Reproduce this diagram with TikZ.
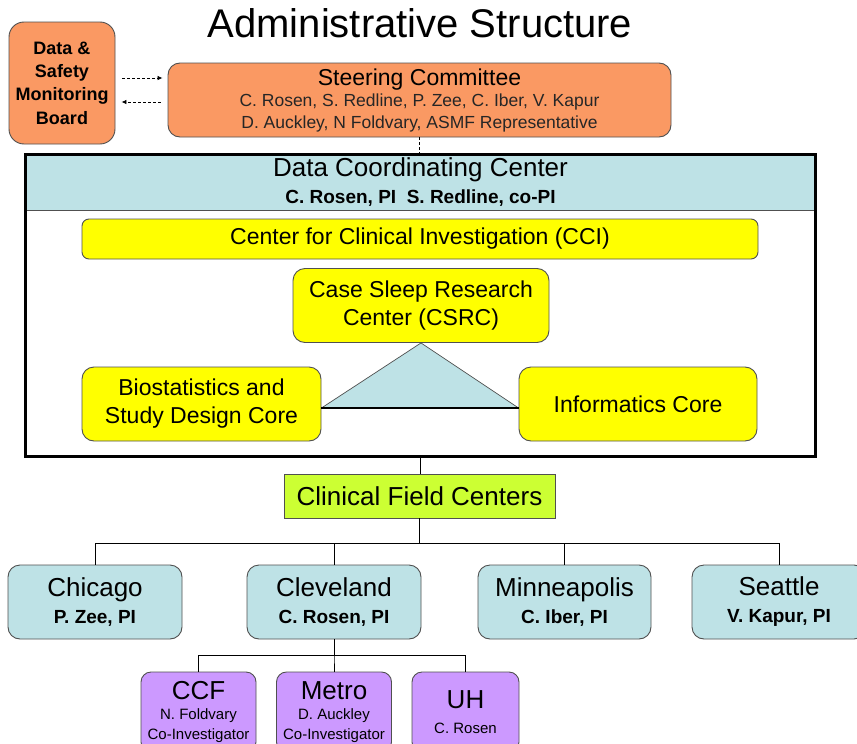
\documentclass[tikz,border=0pt]{standalone}
\usepackage{fontspec}
\setmainfont{Liberation Sans}
\usetikzlibrary{arrows.meta,calc}

\definecolor{dsorange}{RGB}{250,153,99}
\definecolor{paleblue}{RGB}{190,226,230}
\definecolor{boxyellow}{RGB}{255,255,0}
\definecolor{limegreen}{RGB}{204,255,51}
\definecolor{lilac}{RGB}{204,153,255}
\definecolor{edgegray}{RGB}{80,80,80}

\newcommand\fsz[2]{\fontsize{#1}{#2}\selectfont}

\begin{document}
\begin{tikzpicture}[x=1pt,y=-1pt,
  box/.style={draw=edgegray, line width=0.9pt, rounded corners=12pt,
              inner sep=0pt, align=center, text=black},
  orangebox/.style={box, fill=dsorange},
  yellowbox/.style={box, fill=boxyellow, font=\fsz{23}{28}},
  citybox/.style={box, fill=paleblue, minimum width=174pt,
                  minimum height=74pt, font=\fsz{26}{27}},
  sitebox/.style={box, fill=lilac, rounded corners=10pt,
                  minimum height=80pt, font=\fsz{26}{20}},
  link/.style={draw=black, line width=0.8pt},
  dashlink/.style={draw=black, line width=0.8pt, dash pattern=on 3pt off 2pt},
  tip/.style={-{Latex[length=5pt,width=4.5pt]}}
]
\path[use as bounding box] (0,0) rectangle (857,744);
\clip (0,0) rectangle (857,744);
\fill[white] (0,0) rectangle (857,744);

% heading
\node[inner sep=0pt, font=\fsz{40}{44}] (title) at (420,23) {Administrative Structure};

% oversight
\node[orangebox, rounded corners=15pt, minimum width=106pt, minimum height=122pt,
      font=\bfseries\fsz{18}{23.3}] (dsmb) at (62,83)
      {Data \&\\Safety\\Monitoring\\Board};
\node[orangebox, minimum width=503pt, minimum height=74pt,
      font=\fsz{17.5}{21.5}, text=black!85] (sc) at (419.5,100)
      {{\fsz{23}{21.5}\color{black}Steering Committee}\\
       C. Rosen, S. Redline, P. Zee, C. Iber, V. Kapur\\
       D. Auckley, N Foldvary, ASMF Representative};

% data coordinating center
\node[draw=edgegray, line width=0.8pt, fill=paleblue, inner sep=0pt,
      minimum width=790pt, minimum height=55.5pt, align=center,
      font=\fsz{26}{27}] (dcchead) at (420.5,182.25)
      {Data Coordinating Center\\{\bfseries\fsz{19}{27}C. Rosen, PI~~S. Redline, co-PI}};
\node[draw=black, line width=3pt, inner sep=0pt,
      minimum width=790pt, minimum height=302pt] (dcc) at (420.5,305.5) {};

\node[yellowbox, rounded corners=7pt, minimum width=676pt, minimum height=40pt]
      (cci) at (420,239) {Center for Clinical Investigation (CCI)};
\node[yellowbox, minimum width=256pt, minimum height=74pt] (csrc) at (421,305.5)
      {Case Sleep Research\\Center (CSRC)};
\node[yellowbox, minimum width=239pt, minimum height=74pt] (bio) at (201.5,404)
      {Biostatistics and\\Study Design Core};
\node[yellowbox, minimum width=238pt, minimum height=74pt] (inf) at (638,404)
      {Informatics Core};

% core triangle
\coordinate (tl) at ($(bio.east)+(0,4)$);
\coordinate (tr) at ($(inf.west)+(0,4)$);
\fill[paleblue] (csrc.south) -- (tl) -- (tr) -- cycle;
\draw[edgegray, line width=0.7pt] (tl) -- (csrc.south) -- (tr);
\draw[black, line width=1.2pt] (tl) -- (tr);

% field centers
\node[draw=edgegray, line width=0.9pt, fill=limegreen, inner sep=0pt,
      minimum width=271pt, minimum height=44pt, font=\fsz{26}{27}]
      (cfc) at (419.5,496) {Clinical Field Centers};

\node[citybox] (chicago) at (95,602) {Chicago\\{\bfseries\fsz{19}{27}P. Zee, PI}};
\node[citybox] (cleveland) at (334,602) {Cleveland\\{\bfseries\fsz{19}{27}C. Rosen, PI}};
\node[citybox, minimum width=173pt] (minneapolis) at (564.5,602)
      {Minneapolis\\{\bfseries\fsz{19}{27}C. Iber, PI}};
\node[citybox] (seattle) at (779,602) {Seattle\\{\bfseries\fsz{19}{27}V. Kapur, PI}};

\node[sitebox, minimum width=115pt] (ccf) at (198.5,712)
      {CCF\\{\fsz{15}{20}N. Foldvary}\\{\fsz{15}{20}Co-Investigator}};
\node[sitebox, minimum width=115pt] (metro) at (334,712)
      {Metro\\{\fsz{15}{20}D. Auckley}\\{\fsz{15}{20}Co-Investigator}};
\node[sitebox, minimum width=107pt, font=\fsz{26}{25}] (uh) at (465.5,712)
      {UH\\{\fsz{15}{25}C. Rosen}};

% connectors
\draw[dashlink, tip] ($(dsmb.east)+(7,-5)$) -- ($(sc.west)+(-5,-22)$);
\draw[dashlink, tip] ($(sc.west)+(-7,2)$) -- ($(dsmb.east)+(6,19)$);
\draw[dashlink] (sc.south) -- (sc.south |- dcc.north);
\draw[link] (dcc.south) -- (dcc.south |- cfc.north);
\foreach \c in {chicago,cleveland,minneapolis,seattle}
  \draw[link] (cfc.south) -- ++(0,25) -| (\c.north);
\foreach \c in {ccf,metro,uh}
  \draw[link] (cleveland.south) -- ++(0,16) -| (\c.north);
\end{tikzpicture}
\end{document}
